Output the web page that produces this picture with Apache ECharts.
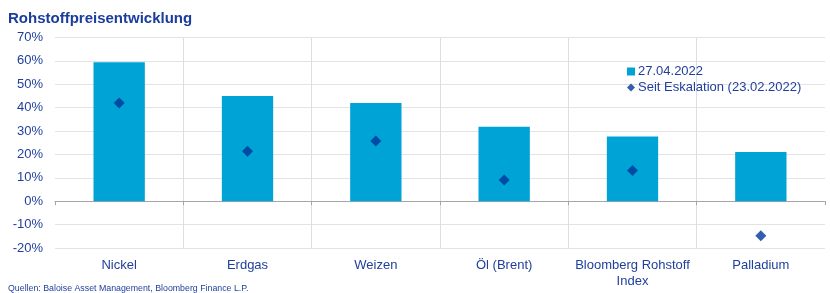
<!DOCTYPE html>
<html>
<head>
<meta charset="utf-8">
<script src="https://cdn.jsdelivr.net/npm/echarts@6/dist/echarts.min.js"></script>
<style>
html,body{margin:0;padding:0;background:#fff;}
#chart{width:830px;height:293px;}
</style>
</head>
<body>
<div id="chart"></div>
<script>
const categories = ['Nickel', 'Erdgas', 'Weizen', 'Öl (Brent)', 'Bloomberg Rohstoff\nIndex', 'Palladium'];
const current = [59.4, 45.0, 42.0, 31.8, 27.7, 21.0];
const sinceEscalation = [42.0, 21.4, 25.8, 9.1, 13.1, -14.8];
const seriesNames = ['27.04.2022', 'Seit Eskalation (23.02.2022)'];
const titleText = 'Rohstoffpreisentwicklung';
const sourceText = 'Quellen: Baloise Asset Management, Bloomberg Finance L.P.';

const textColor = '#1f3f9c';
const font = 'Liberation Sans, Arial, sans-serif';
const chart = echarts.init(document.getElementById('chart'), null, {renderer: 'canvas'});
chart.setOption({
  animation: false,
  textStyle: {fontFamily: font},
  title: [
    {text: titleText, left: 3, top: 6, textStyle: {color: '#1a3d9e', fontSize: 15, fontWeight: 'bold', fontFamily: font}},
    {text: sourceText, left: 3, top: 279, textStyle: {color: '#1f3f9c', fontSize: 8.8, fontWeight: 'normal', fontFamily: font}}
  ],
  legend: {
    left: 622, top: 60, orient: 'vertical', itemGap: 3,
    itemWidth: 8, itemHeight: 8,
    textStyle: {color: textColor, fontSize: 13, fontFamily: font, padding: [0, 0, 0, -2]},
    data: [
      {name: seriesNames[0], icon: 'rect'},
      {name: seriesNames[1], icon: 'diamond'}
    ]
  },
  grid: {left: 55, right: 5, top: 37.5, bottom: 45, containLabel: false},
  xAxis: [
    {
      type: 'category', data: categories, position: 'bottom',
      axisLine: {show: false, onZero: false}, axisTick: {show: false},
      axisLabel: {interval: 0, color: textColor, fontSize: 13, margin: 9, lineHeight: 16, fontFamily: font},
      splitLine: {show: true, interval: 0, showMinLine: false, showMaxLine: false, lineStyle: {color: '#dedede', width: 1}}
    },
    {
      type: 'category', data: categories, position: 'bottom',
      axisLine: {show: true, onZero: true, lineStyle: {color: '#a6a6a6', width: 1}},
      axisTick: {show: true, interval: 0, length: 4, lineStyle: {color: '#a6a6a6'}},
      axisLabel: {show: false}, splitLine: {show: false}
    }
  ],
  yAxis: {
    type: 'value', min: -20, max: 70, interval: 10,
    axisLine: {show: false}, axisTick: {show: false},
    axisLabel: {color: textColor, fontSize: 13, margin: 12, formatter: '{value}%', fontFamily: font},
    splitLine: {lineStyle: {color: '#e3e3e3', width: 1}}
  },
  series: [
    {
      name: seriesNames[0], type: 'bar', data: current, xAxisIndex: 0,
      barWidth: '40%', itemStyle: {color: '#00a3d5'}
    },
    {
      name: seriesNames[1], type: 'scatter', data: sinceEscalation, xAxisIndex: 0,
      symbol: 'diamond', symbolSize: [11, 11], itemStyle: {color: '#00349a'}, z: 5
    }
  ]
});
</script>
</body>
</html>
